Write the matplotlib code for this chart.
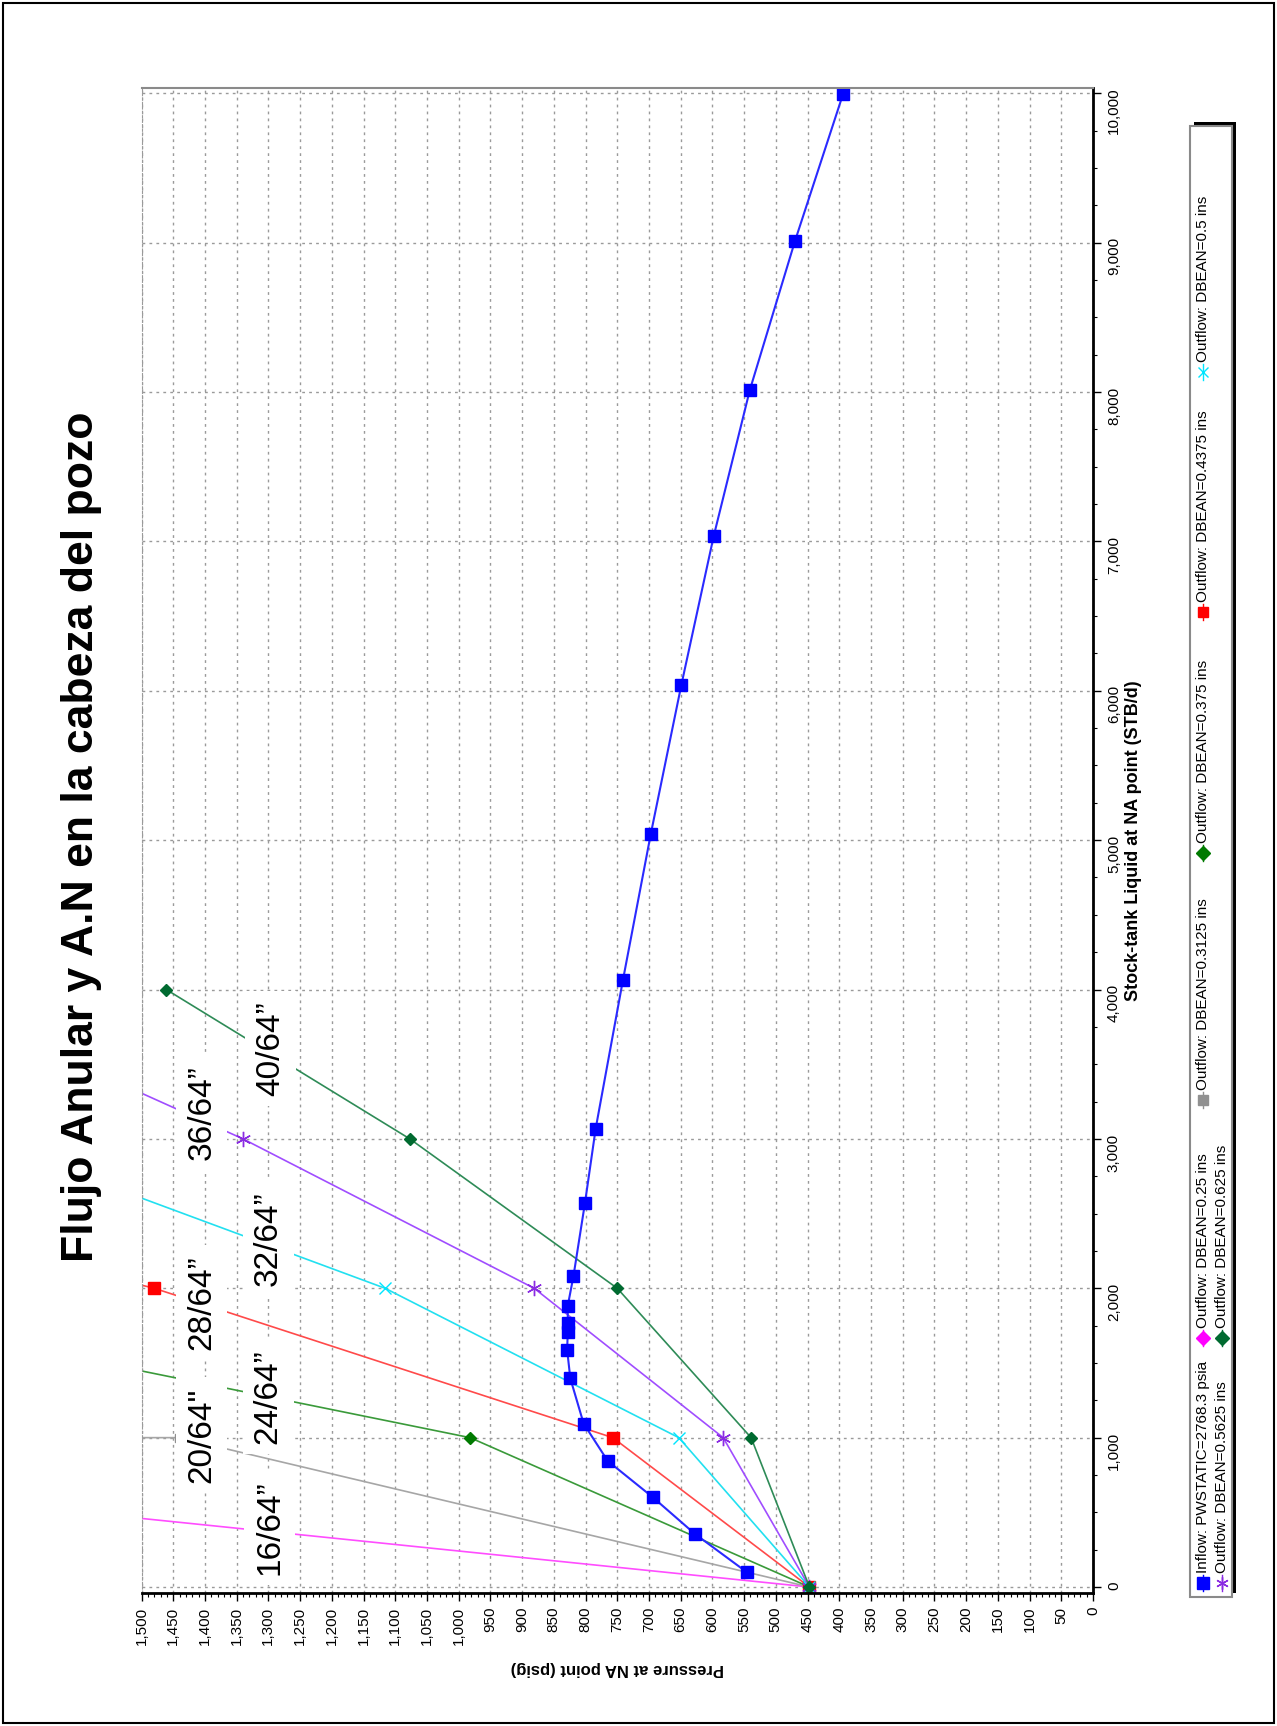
import matplotlib
matplotlib.use("Agg")
from matplotlib import pyplot as plt
from matplotlib import font_manager
from matplotlib.lines import Line2D
from matplotlib.patches import Rectangle
from matplotlib.ticker import MultipleLocator, FuncFormatter

W, H = 1277, 1726

_names = {f.name for f in font_manager.fontManager.ttflist}
NARROW = 'Liberation Sans Narrow' if 'Liberation Sans Narrow' in _names else 'Liberation Sans'

# inflow curve (pressure psig, liquid STB/d)
inflow_q = [100, 357, 601, 844, 1094, 1397, 1588, 1707, 1765, 1883, 2082,
            2568, 3069, 4064, 5044, 6038, 7034, 8013, 9008, 9995]
inflow_p = [546, 628, 694, 765, 803, 824, 829, 828, 828, 828, 819,
            801, 784, 741, 697, 649, 598, 541, 470, 394]

# outflow curves, one per bean size
out_025_q = [0, 1000]
out_025_p = [447, 2740]
out_03125_q = [0, 1000, 1000]
out_03125_p = [447, 1441, 1700]
out_0375_q = [0, 1000, 2000]
out_0375_p = [447, 982, 2142]
out_04375_q = [0, 1000, 2000, 3000]
out_04375_p = [447, 757, 1480, 2430]
out_05_q = [0, 1000, 2000, 3000]
out_05_p = [447, 653, 1116, 1752]
out_05625_q = [0, 1000, 2000, 3000, 4000]
out_05625_p = [447, 583, 881, 1340, 1863]
out_0625_q = [0, 1000, 2000, 3000, 4000]
out_0625_p = [447, 539, 750, 1077, 1461]

choke_labels = ['16/64\u201d', '20/64"', '24/64\u201d', '28/64\u201d',
                '32/64\u201d', '36/64\u201d', '40/64\u201d']
choke_label_p = [1298, 1405, 1300, 1405, 1300, 1405, 1297]
choke_label_q = [395, 1017, 1275, 1904, 2333, 3176, 3604]

legend_labels = ['Inflow: PWSTATIC=2768.3 psia', 'Outflow: DBEAN=0.25 ins',
                 'Outflow: DBEAN=0.3125 ins', 'Outflow: DBEAN=0.375 ins',
                 'Outflow: DBEAN=0.4375 ins', 'Outflow: DBEAN=0.5 ins',
                 'Outflow: DBEAN=0.5625 ins', 'Outflow: DBEAN=0.625 ins']


def fx(px):
    return px / W


def fy(py):
    return 1 - py / H


fig = plt.figure(figsize=(W / 100, H / 100), dpi=100)
ax = fig.add_axes([fx(141.5), fy(1593), 951.5 / W, 1505 / H])

styles = [
    (out_025_q, out_025_p, '#ff4dff', 'D', 6, 1.2),
    (out_03125_q, out_03125_p, '#a6a6a6', 's', 6, 1.2),
    (out_0375_q, out_0375_p, '#3a9a3a', 'D', 6, 1.2),
    (out_04375_q, out_04375_p, '#ff4a4a', 's', 8, 1.2),
    (out_05_q, out_05_p, '#22e0f0', 'x', 9, 1.2),
    (out_05625_q, out_05625_p, '#a04dff', (6, 2, 0), 11, 1.2),
    (out_0625_q, out_0625_p, '#2e8b57', 'D', 6, 1.2),
]
marker_colors = ['#ff00ff', '#909090', '#007a00', '#ff0000', '#00e5ff', '#8a2be2', '#006a30']
for (q, p, c, m, ms, lw), mc in zip(styles, marker_colors):
    ax.plot(p, q, color=c, lw=lw, marker=m, ms=ms, mfc=mc, mec=mc, zorder=2)

ax.plot(inflow_p, inflow_q, color='#2a2aff', lw=1.5, marker='s', ms=9,
        mfc='#0000ff', mec='#0000ff', zorder=2.5)

for lab, p, q in zip(choke_labels, choke_label_p, choke_label_q):
    ax.text(p, q, lab, rotation=90, ha='center', va='center', fontsize=24,
            family=NARROW, zorder=4,
            bbox=dict(boxstyle='square,pad=0.3', facecolor='white', edgecolor='none'))

ax.set_xlim(1500, 0)
ax.set_ylim(-40, 10035)
ax.yaxis.tick_right()
ax.xaxis.set_major_locator(MultipleLocator(50))
ax.xaxis.set_minor_locator(MultipleLocator(10))
ax.yaxis.set_major_locator(MultipleLocator(1000))
ax.yaxis.set_minor_locator(MultipleLocator(250))
comma = FuncFormatter(lambda v, _: f'{v:,.0f}')
ax.xaxis.set_major_formatter(comma)
ax.yaxis.set_major_formatter(comma)
ax.tick_params(axis='both', which='major', direction='out', length=6, width=1,
               labelsize=11, labelrotation=90, pad=4)
ax.tick_params(axis='both', which='minor', direction='out', length=3, width=0.8)
for t in ax.get_xticklabels() + ax.get_yticklabels():
    t.set_family(NARROW)

ax.grid(True, which='major', color='#9a9a9a', linestyle=(0, (2, 3)), linewidth=1)
ax.set_axisbelow(True)
ax.spines['left'].set_color('#9a9a9a')
ax.spines['left'].set_linestyle((0, (2, 2)))
ax.spines['top'].set_color('#8a8a8a')
ax.spines['top'].set_linewidth(1.5)
ax.spines['right'].set_linewidth(2)
ax.spines['bottom'].set_linewidth(2)

ax.set_xlabel('Pressure at NA point (psig)', rotation=180, fontsize=12,
              fontweight='bold', family=NARROW, va='center', ha='center')
ax.xaxis.set_label_coords(0.5, -0.05)
ax.yaxis.set_label_position('right')
ax.set_ylabel('Stock-tank Liquid at NA point (STB/d)', rotation=90, fontsize=13,
              fontweight='bold', family=NARROW, va='center', ha='center')
ax.yaxis.set_label_coords(1.043, 0.5)

fig.text(fx(82), fy(837), 'Flujo Anular y A.N en la cabeza del pozo', rotation=90,
         fontsize=32, fontweight='bold', family='Liberation Sans',
         ha='center', va='center')

# legend box, drawn by hand because the whole chart is turned on its side
lx0, lx1, ly0, ly1 = 1190, 1232, 126, 1597
fig.add_artist(Rectangle((fx(lx0 + 4), fy(ly1 - 4)), (lx1 - lx0) / W, (ly1 - ly0) / H,
                         transform=fig.transFigure, facecolor='black', edgecolor='none'))
fig.add_artist(Rectangle((fx(lx0), fy(ly1)), (lx1 - lx0) / W, (ly1 - ly0) / H,
                         transform=fig.transFigure, facecolor='white',
                         edgecolor='#8a8a8a', lw=1.5))

leg_pos = [(1203, 1583), (1203, 1338), (1203, 1100), (1203, 853), (1203, 612),
           (1203, 372), (1222, 1583), (1222, 1338)]
leg_style = [('#0000ff', 's', 8)] + [(mc, s[3], 7 if s[3] != (6, 2, 0) else 9)
                                       for s, mc in zip(styles, marker_colors)]
for (x, y), (c, m, ms), lab in zip(leg_pos, leg_style, legend_labels):
    fig.add_artist(Line2D([fx(x), fx(x)], [fy(y + 8), fy(y - 8)], color=c, lw=1,
                          transform=fig.transFigure))
    fig.add_artist(Line2D([fx(x)], [fy(y)], marker=m, ms=ms, color=c, mfc=c, mec=c,
                          transform=fig.transFigure))
    fig.text(fx(x), fy(y - 10), lab, rotation=90, ha='center', va='bottom',
             fontsize=11, family=NARROW)

fig.add_artist(Rectangle((0.002, 0.002), 0.996, 0.996, transform=fig.transFigure,
                         fill=False, edgecolor='black', lw=1.5))

fig.savefig('out.png', dpi=100)
